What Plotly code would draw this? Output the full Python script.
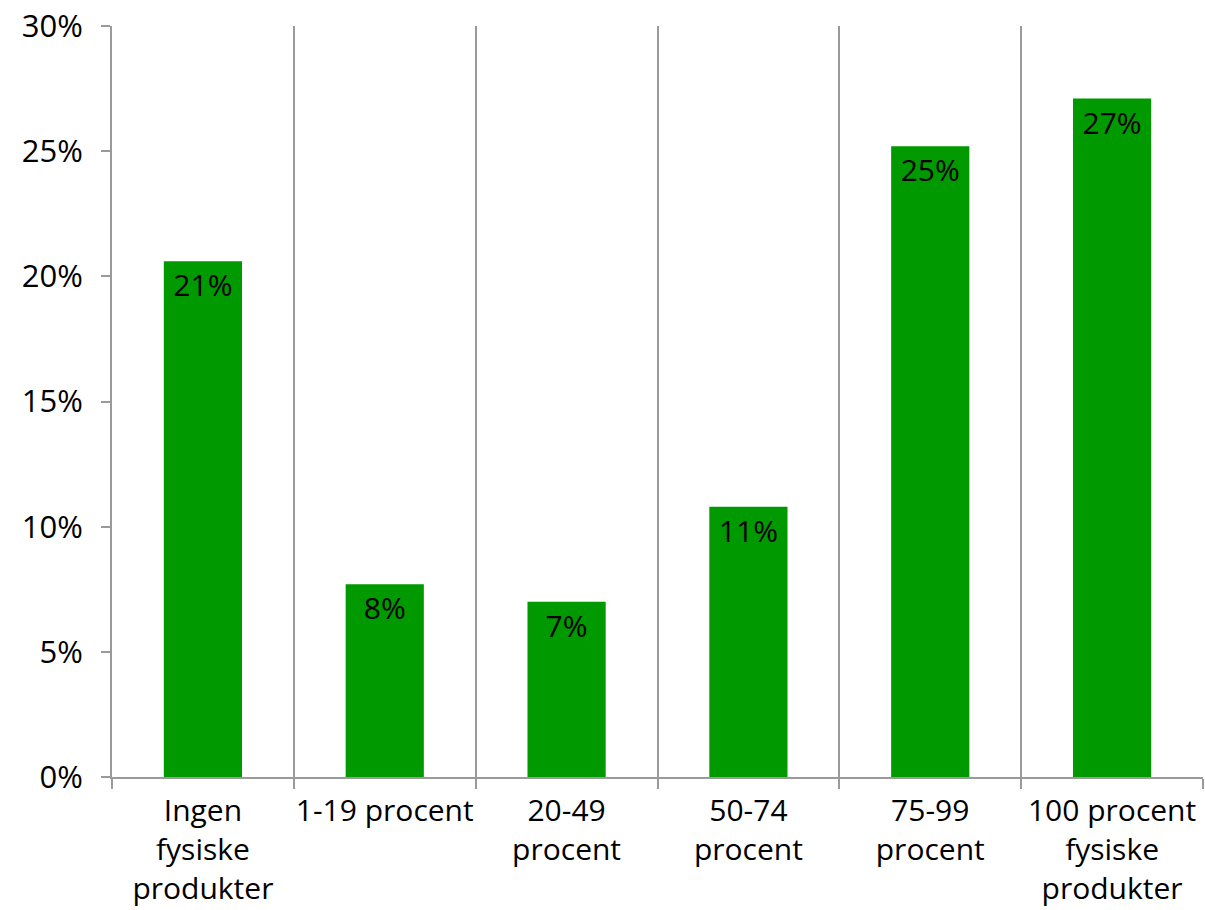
import plotly.graph_objects as go

# Share of physical products in the assortment
categories = [
    "Ingen<br>fysiske<br>produkter",
    "1-19 procent",
    "20-49<br>procent",
    "50-74<br>procent",
    "75-99<br>procent",
    "100 procent<br>fysiske<br>produkter",
]
shares = [20.6, 7.7, 7.0, 10.8, 25.2, 27.1]
share_labels = ["21%", "8%", "7%", "11%", "25%", "27%"]
y_ticks = [0, 5, 10, 15, 20, 25, 30]
y_tick_labels = ["0%", "5%", "10%", "15%", "20%", "25%", "30%"]

FONT = "Open Sans"
GRID = "#9a9a9a"

fig = go.Figure(
    go.Bar(
        x=categories,
        y=shares,
        text=share_labels,
        textposition="inside",
        insidetextanchor="end",
        constraintext="none",
        textfont=dict(family=FONT, size=30, color="black"),
        marker=dict(color="#009900", line=dict(width=0)),
        hoverinfo="skip",
    )
)

fig.update_layout(
    width=1205,
    height=910,
    margin=dict(l=112, r=2, t=26, b=133),
    paper_bgcolor="white",
    plot_bgcolor="white",
    bargap=0.57,
    showlegend=False,
    font=dict(family=FONT, size=31, color="black"),
)

fig.update_xaxes(
    type="category",
    automargin=False,
    tickson="boundaries",
    showgrid=True,
    gridcolor=GRID,
    gridwidth=2,
    showline=True,
    linecolor=GRID,
    linewidth=2,
    ticks="outside",
    ticklen=10,
    tickwidth=2,
    tickcolor=GRID,
    tickangle=0,
    ticklabelstandoff=6,
    tickfont=dict(family=FONT, size=30, color="black"),
    mirror=False,
)

fig.update_yaxes(
    range=[0, 30],
    automargin=False,
    tickvals=y_ticks,
    ticktext=y_tick_labels,
    showgrid=False,
    zeroline=False,
    showline=True,
    linecolor=GRID,
    linewidth=2,
    ticks="outside",
    ticklen=9,
    tickwidth=2,
    tickcolor=GRID,
    ticklabelstandoff=12,
    tickfont=dict(family=FONT, size=31, color="black"),
)

fig.write_html("out.html")
